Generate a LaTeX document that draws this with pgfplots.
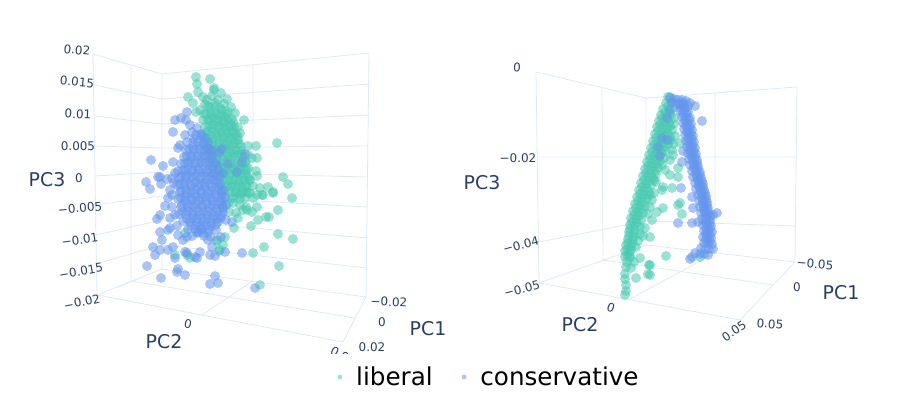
\documentclass[border=0pt]{standalone}
\usepackage{fontspec}
\setmainfont{DejaVu Sans}
\usepackage{pgfplots}
\usepackage{pgfplotstable}
\pgfplotsset{compat=1.18}
\definecolor{gridc}{HTML}{DFE8F3}
\definecolor{inkc}{HTML}{2A3F5F}
\definecolor{libc}{HTML}{48C9B0}
\definecolor{conc}{HTML}{6495ED}

% all positions in pixels (900x400, y down)
\pgfplotstableread{
x y
93 54
162 74
369 53
nan nan
94 85
162 99
369 84
nan nan
94 116
162 124
369 115
nan nan
95 146
162 148
368 146
nan nan
95 176
162 172
368 177
nan nan
95 205
162 196
367 207
nan nan
96 235
162 220
367 238
nan nan
96 264
162 245
367 268
nan nan
97 295
162 269
366 297
nan nan
93 54
97 295
nan nan
162 74
162 269
nan nan
369 53
366 297
nan nan
131 66
131 281
nan nan
253 65
253 281
nan nan
97 295
343 342
366 297
nan nan
131 281
355 318
nan nan
253 281
202 315
nan nan
162 269
118 287
nan nan
536 72
646 98
797 87
nan nan
539 157
646 157
796 157
nan nan
539 242
646 221
795 226
nan nan
539 283
646 245
795 262
nan nan
536 72
539 283
nan nan
646 98
646 245
nan nan
797 87
795 262
nan nan
602 88
603 260
nan nan
715 94
715 253
nan nan
539 283
740 320
795 262
nan nan
603 260
773 285
nan nan
715 253
630 299
}\gridtable

\pgfplotstableread{
x y
196 77
210 79
197 84
214 88
214 90
221 93
188 97
198 92
193 103
207 100
227 99
203 97
212 96
218 100
224 104
231 107
200 110
208 106
215 106
222 110
228 112
235 113
244 120
196 112
204 114
211 112
218 115
225 117
232 119
203 120
210 120
217 122
224 123
231 125
238 127
205 127
212 128
219 129
226 130
233 131
240 133
203 134
210 135
217 136
224 137
231 138
238 140
205 142
212 143
219 144
226 145
233 146
241 146
248 146
256 146
277 143
206 150
213 151
220 152
227 153
234 153
241 154
248 155
210 158
217 159
224 160
231 160
238 161
245 162
252 158
257 158
212 166
219 167
226 167
233 168
240 169
247 170
256 171
257 176
248 177
215 174
222 175
229 175
236 176
243 177
250 180
283 177
288 184
218 182
225 183
232 183
239 184
246 185
253 186
260 188
268 187
273 192
263 195
222 190
229 190
236 191
243 192
250 193
257 195
292 198
225 197
232 198
240 195
248 193
253 198
262 195
273 193
228 204
233 203
240 205
246 207
223 207
257 207
278 210
229 212
236 213
243 210
247 210
252 212
238 218
269 217
266 217
258 220
251 226
234 228
225 237
278 234
293 239
217 241
220 250
264 247
253 253
279 266
260 285
219 251
185 233
187 255
175 255
217 240
223 245
190 258
205 104
210 108
215 103
220 108
206 114
211 115
216 113
221 114
226 114
208 120
213 118
218 120
223 121
228 120
233 122
209 126
214 125
219 126
224 127
229 126
234 127
207 132
212 131
217 133
222 132
227 133
232 132
236 134
208 138
213 139
218 138
223 139
228 138
233 139
238 137
209 144
214 145
219 147
224 144
229 145
234 143
239 144
211 150
216 149
221 150
226 149
231 151
236 150
241 151
213 156
218 155
223 156
228 157
233 156
238 155
243 157
216 162
221 163
226 162
231 163
236 164
241 163
246 162
219 168
224 169
229 168
234 169
239 168
244 169
248 168
221 174
226 173
231 174
236 173
241 174
246 174
224 180
229 181
234 180
239 181
244 180
249 180
227 186
232 186
237 186
242 187
247 186
231 192
236 193
241 193
246 192
234 198
240 199
245 198
}\libleft

\pgfplotstableread{
x y
175 120
187 112
186 120
190 125
181 118
173 132
192 132
185 135
197 128
180 145
178 148
187 142
194 139
201 134
151 160
163 166
173 162
146 182
150 189
160 177
158 177
161 184
175 173
167 179
174 183
172 195
165 206
160 215
157 219
170 218
160 232
168 230
177 226
162 240
153 247
160 250
155 255
168 250
173 247
185 252
175 258
187 253
197 258
147 266
178 269
185 275
177 272
161 278
200 252
210 255
215 276
218 283
210 284
183 240
197 233
200 230
208 240
212 247
195 257
187 237
242 253
225 252
215 256
255 288
232 222
221 237
222 149
219 153
245 154
242 162
228 164
237 172
223 173
217 165
212 150
186 150
193 148
200 146
207 148
184 157
191 156
198 155
205 155
212 158
181 164
188 163
195 163
202 163
209 165
178 171
185 171
192 171
199 171
206 172
213 173
179 178
186 178
193 178
200 179
207 179
214 180
177 185
184 185
191 186
198 186
205 186
212 187
219 187
180 192
187 193
194 193
201 193
208 193
215 194
222 195
178 199
185 200
192 200
199 200
206 200
213 201
220 202
181 207
188 207
195 207
202 207
209 208
216 209
223 208
179 214
186 214
193 215
200 215
207 215
214 216
221 216
183 221
190 222
197 222
204 222
211 223
218 222
226 220
188 229
195 229
202 229
209 230
216 230
192 236
204 236
211 237
172 178
170 190
168 198
172 207
175 215
170 228
178 235
196 135
201 136
205 138
193 142
198 142
203 143
208 142
189 149
194 150
199 149
204 150
209 149
187 156
192 157
197 156
202 157
207 156
212 155
185 163
190 162
195 164
200 162
205 163
210 162
215 163
183 170
188 169
193 170
198 169
203 170
208 170
213 169
218 170
181 177
186 176
191 177
196 176
201 177
206 176
211 177
216 176
220 177
180 184
185 183
190 184
195 183
200 184
205 183
210 184
215 183
220 184
181 191
186 190
191 191
196 190
201 191
206 190
211 191
216 190
221 191
224 190
181 198
186 197
191 198
196 197
201 198
206 197
211 198
216 197
221 198
225 198
182 205
187 204
192 205
197 204
202 205
207 204
212 205
217 204
222 205
226 205
183 212
188 211
193 212
198 211
203 212
208 211
213 212
218 211
223 212
187 219
192 218
197 219
202 218
207 219
212 218
217 219
221 218
191 226
196 225
201 226
206 225
211 226
216 225
198 232
203 233
208 232
}\conleft

\pgfplotstableread{
x y
668 97
670 97
666 103
671 103
668 106
663 109
669 110
673 108
661 115
666 116
671 115
674 118
659 121
664 122
669 123
674 124
657 127
662 128
667 129
672 130
655 134
660 135
665 136
670 137
675 136
653 141
658 142
663 143
668 144
673 144
651 148
656 149
661 150
666 151
672 150
673 155
649 155
654 156
659 157
664 158
680 143
647 162
652 163
657 164
662 165
670 160
678 168
645 169
650 170
655 171
665 170
670 175
678 177
643 176
648 177
653 178
641 183
646 184
651 185
656 182
663 187
672 188
662 190
639 190
644 191
649 192
654 193
680 203
678 205
637 197
642 198
647 199
652 200
635 204
640 205
645 206
650 207
663 208
657 212
633 211
638 212
643 213
648 214
682 214
631 218
636 219
641 220
652 220
630 225
635 226
640 227
645 228
629 232
634 233
640 234
643 236
650 237
628 239
633 240
638 241
626 245
631 246
636 247
625 251
630 252
640 258
625 257
630 258
627 262
634 262
650 265
666 256
700 257
648 274
649 265
650 275
626 267
631 268
625 274
636 278
625 279
626 285
626 291
625 295
665 112
670 113
662 118
668 119
660 125
665 126
670 126
658 131
663 132
668 133
656 138
661 139
666 140
671 140
654 145
659 146
664 147
652 152
657 153
662 153
650 159
655 160
660 161
648 166
653 167
658 168
646 173
651 174
656 174
644 180
649 181
654 180
642 187
647 188
640 194
645 195
650 195
638 201
643 202
636 208
641 209
634 215
639 216
632 222
637 223
630 229
635 230
629 236
634 237
628 243
632 244
627 249
631 250
627 255
630 256
}\libright

\pgfplotstableread{
x y
670 98
674 99
678 100
682 100
686 101
690 103
672 102
676 104
680 105
684 105
688 106
695 106
670 110
667 118
680 111
684 111
688 112
682 117
686 117
690 118
702 121
683 123
687 123
691 124
684 129
688 129
692 130
685 135
689 135
693 136
686 141
690 141
694 142
662 138
668 140
658 147
660 156
683 151
687 147
691 147
695 148
688 153
692 153
696 154
682 162
689 159
693 159
697 160
690 165
694 165
698 166
692 171
696 171
700 172
693 177
697 177
701 178
681 188
695 183
699 183
703 184
696 189
700 189
704 190
692 197
698 195
702 195
706 196
699 201
703 201
707 202
693 208
700 207
704 207
708 208
701 213
705 213
709 214
717 213
713 215
698 222
692 223
678 223
702 219
706 219
710 220
703 225
707 225
711 226
704 231
708 231
712 232
703 237
707 237
711 238
704 243
708 243
712 244
701 248
705 249
709 249
713 249
695 253
700 254
704 254
708 255
692 257
690 259
679 103
683 103
681 108
685 108
683 114
687 114
685 120
689 120
686 126
690 127
687 132
691 133
688 138
692 139
689 144
693 145
690 150
694 151
691 156
695 157
693 162
697 163
694 168
698 169
696 174
700 175
698 180
702 181
699 186
703 187
701 192
705 193
702 198
706 199
703 204
707 205
704 210
708 211
706 216
710 217
706 222
710 223
706 228
710 229
706 234
710 235
706 240
710 241
}\conright

\tikzset{ticklab/.style={font=\fontsize{12}{14}\selectfont, text=inkc, inner sep=0pt},
         axlab/.style={font=\fontsize{19}{22}\selectfont, text=inkc, inner sep=0pt},
         libmark/.style={draw opacity=0, line width=0pt, fill=libc, fill opacity=0.55},
         conmark/.style={draw opacity=0, line width=0pt, fill=conc, fill opacity=0.55}}

\begin{document}
\begin{tikzpicture}
\path[use as bounding box] (0,0) rectangle (900bp,400bp);
\begin{axis}[
    at={(0,0)}, anchor=south west,
    scale only axis,
    width=900bp, height=400bp,
    xmin=0, xmax=900,
    ymin=0, ymax=400,
    y dir=reverse,
    axis lines=none,
    clip=false,
    unbounded coords=jump,
    legend style={at={(axis cs:489,377)}, anchor=center, draw=none, fill=none,
        font=\fontsize{24.7}{28}\selectfont, text=black, legend columns=2,
        /tikz/every odd column/.append style={column sep=12bp},
        /tikz/every even column/.append style={column sep=27bp}},
    legend image post style={mark size=2.4pt},
    legend cell align=left,
]
\addplot[gridc, line width=0.8pt, forget plot] table[x=x,y=y] {\gridtable};

\addplot[only marks, mark=*, mark size=5pt, mark options={libmark}] table[x=x,y=y] {\libleft};
\addplot[only marks, mark=*, mark size=5pt, mark options={conmark}] table[x=x,y=y] {\conleft};
\addplot[only marks, mark=*, mark size=5pt, mark options={libmark}, forget plot] table[x=x,y=y] {\libright};
\addplot[only marks, mark=*, mark size=5pt, mark options={conmark}, forget plot] table[x=x,y=y] {\conright};
\legend{liberal, conservative}

% left scene labels
\node[ticklab, rotate=-5] at (axis cs:77,50) {0.02};
\node[ticklab, rotate=-5] at (axis cs:77,82) {0.015};
\node[ticklab, rotate=-3] at (axis cs:78,114) {0.01};
\node[ticklab] at (axis cs:78,146) {0.005};
\node[ticklab] at (axis cs:79,178) {0};
\node[ticklab, rotate=5] at (axis cs:80,208) {−0.005};
\node[ticklab, rotate=8] at (axis cs:80,240) {−0.01};
\node[ticklab, rotate=10] at (axis cs:81,271) {−0.015};
\node[ticklab, rotate=12] at (axis cs:82,302) {−0.02};
\node[ticklab, rotate=-12] at (axis cs:188,324) {0};
\node[ticklab, rotate=-3] at (axis cs:389,302) {−0.02};
\node[ticklab] at (axis cs:382,322) {0};
\node[ticklab] at (axis cs:372,347) {0.02};
\node[ticklab, rotate=-30] at (axis cs:343,356) {0.02};
\fill[white] (axis cs:325,353.5) rectangle (axis cs:395,368);
\node[axlab] at (axis cs:47,180) {PC3};
\node[axlab] at (axis cs:164,342) {PC2};
\node[axlab] at (axis cs:428,329) {PC1};

% right scene labels
\node[ticklab, rotate=-5] at (axis cs:517,67) {0};
\node[ticklab] at (axis cs:518,158) {−0.02};
\node[ticklab, rotate=15] at (axis cs:521,245) {−0.04};
\node[ticklab, rotate=15] at (axis cs:522,289) {−0.05};
\node[ticklab, rotate=-20] at (axis cs:611,308) {0};
\node[ticklab, rotate=-5] at (axis cs:815,264) {−0.05};
\node[ticklab] at (axis cs:797,287) {0};
\node[ticklab, rotate=-5] at (axis cs:770,324) {0.05};
\node[ticklab, rotate=35] at (axis cs:734,331) {0.05};
\node[axlab] at (axis cs:482,183) {PC3};
\node[axlab] at (axis cs:580,325) {PC2};
\node[axlab] at (axis cs:841,293) {PC1};
\end{axis}
\end{tikzpicture}
\end{document}
